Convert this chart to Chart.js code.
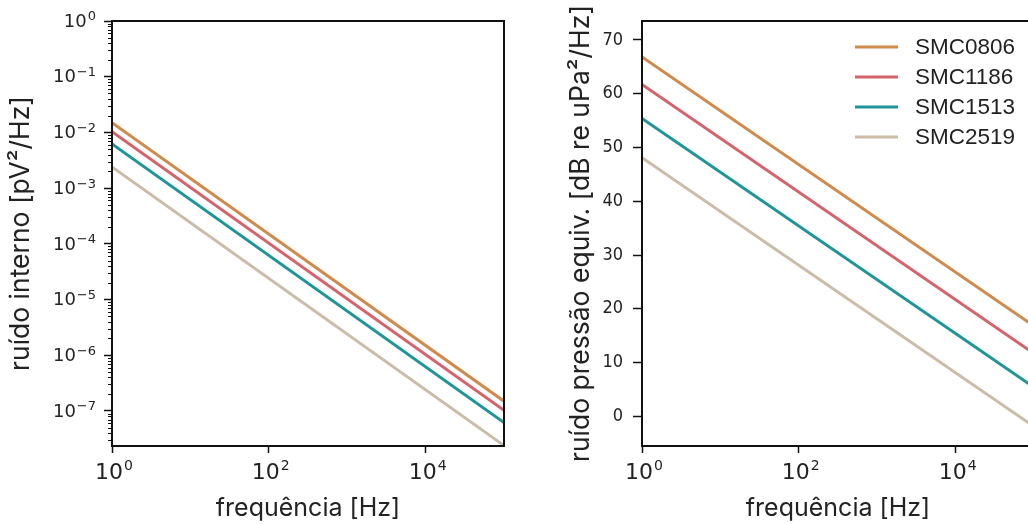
<!DOCTYPE html>
<html>
<head>
<meta charset="utf-8">
<script src="https://cdn.jsdelivr.net/npm/chart.js@4.4.1/dist/chart.umd.min.js"></script>
<style>
  html, body { margin: 0; padding: 0; background: #fff; overflow: hidden; width: 1028px; height: 524px; }
  #left { position: absolute; left: 0; top: 0; }
  #right { position: absolute; left: 530px; top: 0; }
</style>
</head>
<body>
<canvas id="left" width="520" height="524"></canvas>
<canvas id="right" width="516" height="524"></canvas>
<script>
// frequency end points [Hz]
const freq = [1, 100000];
const models = ["SMC0806", "SMC1186", "SMC1513", "SMC2519"];
const colors = ["#cf8a4c", "#d4636b", "#1f9597", "#cbbca8"];

// ruído interno [pV²/Hz]
const interno0806 = [1.5e-2, 1.5e-7];
const interno1186 = [1.03e-2, 1.03e-7];
const interno1513 = [6.2e-3, 6.2e-8];
const interno2519 = [2.4e-3, 2.4e-8];

// ruído pressão equiv. [dB re uPa²/Hz]
const pressao0806 = [66.8, 16.8];
const pressao1186 = [61.7, 11.7];
const pressao1513 = [55.4, 5.4];
const pressao2519 = [48.1, -1.9];

// tick values, labels are 10^exp
const xTicks = [1, 100, 10000];
const xTickExp = ["0", "2", "4"];
const yTicksInterno = [1, 1e-1, 1e-2, 1e-3, 1e-4, 1e-5, 1e-6, 1e-7];
const yTickExpInterno = ["0", "−1", "−2", "−3", "−4", "−5", "−6", "−7"];
const yTicksPressao = [0, 10, 20, 30, 40, 50, 60, 70];

const TXT = "#222";

function series(vals) {
  return vals.map((v, i) => ({ x: freq[i], y: v }));
}

function makeDatasets(list) {
  return list.map((vals, i) => ({
    label: models[i],
    data: series(vals),
    borderColor: colors[i],
    backgroundColor: colors[i],
    borderWidth: 3,
    pointRadius: 0,
    tension: 0
  }));
}

// draws "10" with a raised exponent
function drawPow(ctx, x, y, exp, size, expSize, raise, align) {
  ctx.font = size + "px 'DejaVu Sans'";
  const wb = ctx.measureText("10").width;
  ctx.font = expSize + "px 'DejaVu Sans'";
  const we = ctx.measureText(exp).width;
  const total = wb + 1 + we;
  const x0 = align === "right" ? x - total : x - total / 2;
  ctx.fillStyle = TXT;
  ctx.textBaseline = "middle";
  ctx.textAlign = "left";
  ctx.font = size + "px 'DejaVu Sans'";
  ctx.fillText("10", x0, y);
  ctx.font = expSize + "px 'DejaVu Sans'";
  ctx.fillText(exp, x0 + wb + 1, y - raise);
}

const frame = {
  id: "frame",
  afterDraw(chart) {
    const { ctx, chartArea: a } = chart;
    ctx.save();
    ctx.strokeStyle = "#111";
    ctx.lineWidth = 2;
    ctx.strokeRect(a.left, a.top, a.right - a.left, a.bottom - a.top);
    ctx.restore();
  }
};

const xPowLabels = {
  id: "xPowLabels",
  afterDraw(chart) {
    const { ctx, chartArea: a } = chart;
    const x = chart.scales.x;
    ctx.save();
    xTicks.forEach((v, i) => {
      drawPow(ctx, x.getPixelForValue(v) + 2, a.bottom + 27, xTickExp[i], 22, 14, 7, "center");
    });
    ctx.restore();
  }
};

const yPowLabels = {
  id: "yPowLabels",
  afterDraw(chart) {
    const { ctx, chartArea: a } = chart;
    const y = chart.scales.y;
    ctx.save();
    yTicksInterno.forEach((v, i) => {
      drawPow(ctx, a.left - 16, y.getPixelForValue(v) + 1, yTickExpInterno[i], 18, 13, 5, "right");
    });
    // short log minor ticks
    ctx.strokeStyle = "#111";
    ctx.lineWidth = 1;
    for (let d = -8; d <= 0; d++) {
      for (let k = 2; k <= 9; k++) {
        const v = k * Math.pow(10, d);
        if (v < y.min || v > y.max) continue;
        const py = Math.round(y.getPixelForValue(v)) + 0.5;
        ctx.beginPath();
        ctx.moveTo(a.left - 4, py);
        ctx.lineTo(a.left, py);
        ctx.stroke();
      }
    }
    ctx.restore();
  }
};

const legendBox = {
  id: "legendBox",
  afterDraw(chart) {
    const { ctx, chartArea: a } = chart;
    ctx.save();
    ctx.font = "22.5px 'Liberation Sans'";
    ctx.textBaseline = "middle";
    chart.data.datasets.forEach((ds, i) => {
      const cy = a.top + 26 + i * 30;
      ctx.strokeStyle = ds.borderColor;
      ctx.lineWidth = 3;
      ctx.beginPath();
      ctx.moveTo(a.right - 179, cy);
      ctx.lineTo(a.right - 136, cy);
      ctx.stroke();
      ctx.fillStyle = TXT;
      ctx.fillText(ds.label, a.right - 119, cy + 1);
    });
    ctx.restore();
  }
};

function xScale() {
  return {
    type: "logarithmic",
    min: 1,
    max: 100000,
    afterBuildTicks: s => { s.ticks = xTicks.map(v => ({ value: v })); },
    afterFit: s => { s.height = 78; },
    ticks: { display: false, autoSkip: false },
    grid: { drawOnChartArea: false, drawTicks: true, tickLength: 7, tickColor: "#111", tickWidth: 1.5 },
    border: { display: true, color: "#111", width: 2 },
    title: { display: true, text: "frequência [Hz]", color: TXT, font: { family: "Inter", size: 25 }, padding: { top: 0, bottom: 1 } }
  };
}

new Chart(document.getElementById("left"), {
  type: "line",
  data: { datasets: makeDatasets([interno0806, interno1186, interno1513, interno2519]) },
  options: {
    responsive: false,
    animation: false,
    layout: { padding: { top: 21, right: 16, left: 0, bottom: 0 } },
    plugins: { legend: { display: false }, tooltip: { enabled: false } },
    scales: {
      x: xScale(),
      y: {
        type: "logarithmic",
        min: 2.35e-8,
        max: 1,
        afterBuildTicks: s => { s.ticks = yTicksInterno.map(v => ({ value: v })); },
        afterFit: s => { s.width = 112; },
        ticks: { display: false, autoSkip: false },
        grid: { drawOnChartArea: false, drawTicks: true, tickLength: 8, tickColor: "#111", tickWidth: 1.5 },
        border: { display: true, color: "#111", width: 2 },
        title: { display: true, text: "ruído interno [pV²/Hz]", color: TXT, font: { family: "Inter", size: 26.5 }, padding: { top: 5, bottom: 0 } }
      }
    }
  },
  plugins: [frame, xPowLabels, yPowLabels]
});

new Chart(document.getElementById("right"), {
  type: "line",
  data: { datasets: makeDatasets([pressao0806, pressao1186, pressao1513, pressao2519]) },
  options: {
    responsive: false,
    animation: false,
    layout: { padding: { top: 21, right: 12, left: 0, bottom: 0 } },
    plugins: { legend: { display: false }, tooltip: { enabled: false } },
    scales: {
      x: xScale(),
      y: {
        type: "linear",
        min: -5.5,
        max: 73.5,
        afterBuildTicks: s => { s.ticks = yTicksPressao.map(v => ({ value: v })); },
        afterFit: s => { s.width = 112; },
        ticks: {
          autoSkip: false,
          padding: 10,
          color: TXT,
          font: { family: "DejaVu Sans Condensed", size: 18 },
          callback: v => String(v)
        },
        grid: { drawOnChartArea: false, drawTicks: true, tickLength: 9, tickColor: "#111", tickWidth: 1.5 },
        border: { display: true, color: "#111", width: 2 },
        title: { display: true, text: "ruído pressão equiv. [dB re uPa²/Hz]", color: TXT, font: { family: "Inter", size: 26.5 }, padding: { top: 35, bottom: 0 } }
      }
    }
  },
  plugins: [frame, xPowLabels, legendBox]
});
</script>
</body>
</html>
